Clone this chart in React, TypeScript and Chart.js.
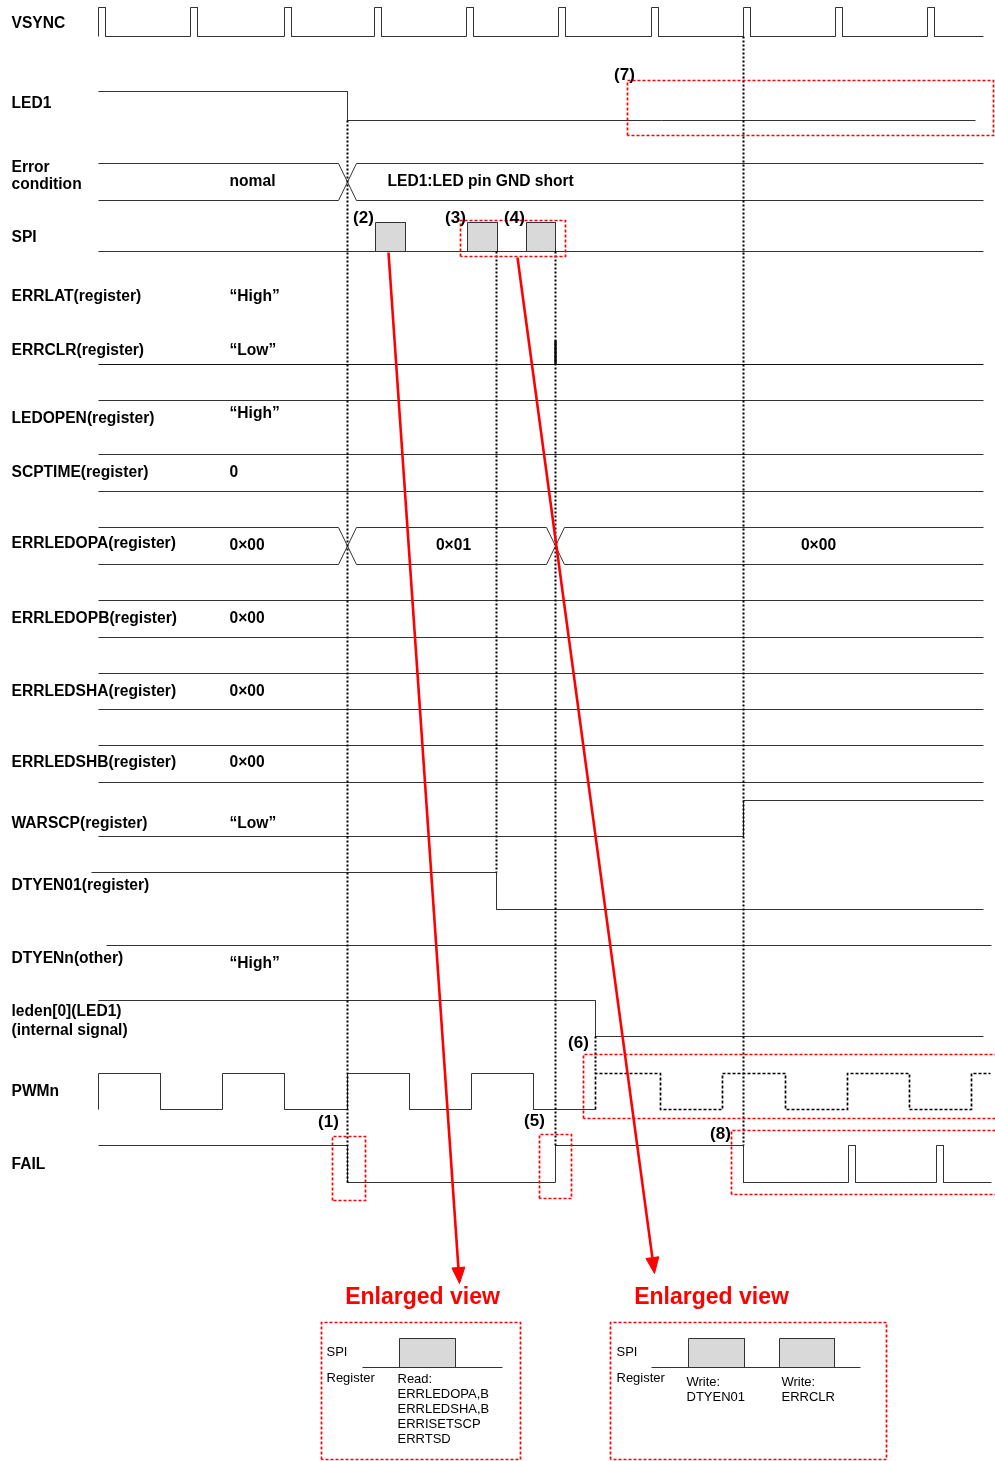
import React, { useEffect, useRef } from "react";
import { Chart, registerables } from "chart.js";

Chart.register(...registerables);

// ---------------- data (timing, in diagram time units) ----------------
const timeStart = 98;
const timeEnd = 983;

const vsyncEdges = [98, 105, 190, 197, 284, 291, 374, 381, 466, 473, 558, 565, 651, 658, 743, 750, 835, 842, 927, 934];
const led1Edges = [347];
const errorCondCross = [347];
const errorCondValues = ["nomal", "LED1:LED pin GND short"];
const spiWindows = [[375, 405], [467, 497], [526, 555]];
const errclrEdges = [555, 555];
const errledopaCross = [347, 555];
const errledopaValues = ["0×00", "0×01", "0×00"];
const warscpEdges = [743];
const dtyen01Edges = [496];
const ledenEdges = [595];
const pwmEdges = [98, 160, 222, 284, 347, 409, 471, 533];
const pwmMaskedEdges = [595, 660, 722, 785, 847, 909, 971];
const failEdges = [347, 555, 743, 848, 855, 936, 943];
const markerTimes = [347, 496, 555, 743, 595];

const zoomSpiA = [[399, 455]];
const zoomSpiB = [[688, 744], [779, 834]];
const zoomReadRegs = ["Read:", "ERRLEDOPA,B", "ERRLEDSHA,B", "ERRISETSCP", "ERRTSD"];
const zoomWriteA = ["Write:", "DTYEN01"];
const zoomWriteB = ["Write:", "ERRCLR"];

const leftLabels = [
  "VSYNC", "LED1", "Error", "condition", "SPI", "ERRLAT(register)", "ERRCLR(register)",
  "LEDOPEN(register)", "SCPTIME(register)", "ERRLEDOPA(register)", "ERRLEDOPB(register)",
  "ERRLEDSHA(register)", "ERRLEDSHB(register)", "WARSCP(register)", "DTYEN01(register)",
  "DTYENn(other)", "leden[0](LED1)", "(internal signal)", "PWMn", "FAIL",
];
const staticValues = ["“High”", "“Low”", "“High”", "0", "0×00", "0×00", "0×00", "0×00", "“Low”", "“High”"];
const stepLabels = ["(1)", "(2)", "(3)", "(4)", "(5)", "(6)", "(7)", "(8)"];

// ---------------- layout (pixel rows / positions) ----------------
const leftLabelY = [23, 103, 167, 184, 237, 296, 350, 418, 472, 543, 618, 691, 762, 823, 885, 958, 1011, 1030, 1091, 1164];
const staticValueY = [296, 350, 413, 472, 545, 618, 691, 762, 823, 963];
const stepLabelPos = [[328, 1122], [363, 218], [455, 218], [514, 218], [534, 1121], [578, 1043], [624, 75], [720, 1134]];

const FONT = "'Liberation Sans', Arial, sans-serif";
const LINE = "#333";
const RED = "#ff0000";

type P = { x: number; y: number };

function step(x0: number, x1: number, high0: boolean, edges: number[], yHi: number, yLo: number): P[] {
  let h = high0;
  const pts: P[] = [{ x: x0, y: h ? yHi : yLo }];
  for (const e of edges) {
    pts.push({ x: e, y: h ? yHi : yLo });
    h = !h;
    pts.push({ x: e, y: h ? yHi : yLo });
  }
  pts.push({ x: x1, y: h ? yHi : yLo });
  return pts;
}

function bus(x0: number, x1: number, crosses: number[], yTop: number, yBot: number, hw: number): P[][] {
  const mk = (startTop: boolean) => {
    let top = startTop;
    const pts: P[] = [{ x: x0, y: top ? yTop : yBot }];
    for (const c of crosses) {
      pts.push({ x: c - hw, y: top ? yTop : yBot });
      top = !top;
      pts.push({ x: c + hw, y: top ? yTop : yBot });
    }
    pts.push({ x: x1, y: top ? yTop : yBot });
    return pts;
  };
  return [mk(true), mk(false)];
}

function rect(x1: number, x2: number, y1: number, y2: number): P[] {
  return [
    { x: x1, y: y2 }, { x: x1, y: y1 }, { x: x2, y: y1 }, { x: x2, y: y2 }, { x: x1, y: y2 },
  ];
}

function ds(points: P[], color: string, width: number, dash: number[] = [], order = 2, fillColor?: string) {
  return {
    data: points,
    showLine: true,
    borderColor: color,
    borderWidth: width,
    borderDash: dash,
    pointRadius: 0,
    pointHoverRadius: 0,
    tension: 0,
    fill: fillColor ? "shape" : false,
    backgroundColor: fillColor || "transparent",
    order,
  };
}

function arrow(sx: number, sy: number, tx: number, ty: number) {
  const dx = tx - sx, dy = ty - sy;
  const len = Math.hypot(dx, dy);
  const ux = dx / len, uy = dy / len;
  const hl = 16, hw = 6.5;
  const bx = tx - ux * hl, by = ty - uy * hl;
  const line = [{ x: sx, y: sy }, { x: bx, y: by }];
  const head = [
    { x: tx, y: ty },
    { x: bx - uy * hw, y: by + ux * hw },
    { x: bx + uy * hw, y: by - ux * hw },
    { x: tx, y: ty },
  ];
  return [ds(line, RED, 2.6, [], 0), ds(head, RED, 1, [], 0, RED)];
}

function buildDatasets() {
  const out: any[] = [];
  // VSYNC
  out.push(ds(step(timeStart, timeEnd, false, vsyncEdges, 7, 36), LINE, 1));
  // LED1
  out.push(ds(step(timeStart, 975, true, led1Edges, 91, 120), LINE, 1));
  // Error condition bus
  for (const p of bus(timeStart, timeEnd, errorCondCross, 163, 200, 9)) out.push(ds(p, LINE, 1));
  // SPI
  for (const w of spiWindows) out.push(ds(rect(w[0], w[1], 222, 251), LINE, 1, [], 3, "#d9d9d9"));
  out.push(ds([{ x: timeStart, y: 251 }, { x: timeEnd, y: 251 }], LINE, 1));
  // ERRCLR
  out.push(ds(step(timeStart, timeEnd, false, errclrEdges, 340, 364), "#111", 1));
  out.push(ds([{ x: errclrEdges[0], y: 340 }, { x: errclrEdges[1], y: 364 }], "#000", 2.4));
  // LEDOPEN
  out.push(ds([{ x: timeStart, y: 400 }, { x: timeEnd, y: 400 }], LINE, 1));
  // SCPTIME bus
  for (const p of bus(timeStart, timeEnd, [], 454, 491, 9)) out.push(ds(p, LINE, 1));
  // ERRLEDOPA bus
  for (const p of bus(timeStart, timeEnd, errledopaCross, 527, 564, 9)) out.push(ds(p, LINE, 1));
  // ERRLEDOPB, ERRLEDSHA, ERRLEDSHB
  for (const [t, b] of [[600, 637], [673, 709], [745, 782]]) {
    for (const p of bus(timeStart, timeEnd, [], t, b, 9)) out.push(ds(p, LINE, 1));
  }
  // WARSCP
  out.push(ds(step(timeStart, timeEnd, false, warscpEdges, 800, 836), LINE, 1));
  // DTYEN01
  out.push(ds(step(91, timeEnd, true, dtyen01Edges, 872, 909), LINE, 1));
  // DTYENn
  out.push(ds([{ x: 106, y: 945 }, { x: 991, y: 945 }], LINE, 1));
  // leden
  out.push(ds(step(timeStart, timeEnd, true, ledenEdges, 1000, 1036), LINE, 1));
  // PWMn
  out.push(ds(step(timeStart, 595, false, pwmEdges, 1073, 1109), LINE, 1));
  out.push(ds(step(595, 990, false, pwmMaskedEdges, 1073, 1109), "#000", 1.7, [3, 2]));
  // FAIL
  out.push(ds(step(timeStart, 991, true, failEdges, 1145, 1182), LINE, 1));

  // guide lines (dotted)
  const guideSpans = [[120, 1182], [251, 872], [251, 1145], [36, 1145], [1036, 1073]];
  markerTimes.forEach((t, i) => {
    out.push(ds([{ x: t, y: guideSpans[i][0] }, { x: t, y: guideSpans[i][1] }], "#000", 2, [2, 2], 1));
  });

  // red dashed highlight boxes
  const boxes = [
    [627, 993, 80, 135],
    [460, 565, 220, 256],
    [583, 1000, 1054, 1118],
    [731, 1000, 1130, 1194],
    [332, 365, 1136, 1200],
    [539, 571, 1134, 1198],
    [321, 520, 1322, 1459],
    [610, 886, 1322, 1459],
  ];
  for (const b of boxes) out.push(ds(rect(b[0], b[1], b[2], b[3]), RED, 1.7, [3, 2], 0));

  // enlarged views
  out.push(ds([{ x: 362, y: 1367 }, { x: 502, y: 1367 }], LINE, 1));
  for (const w of zoomSpiA) out.push(ds(rect(w[0], w[1], 1338, 1367), LINE, 1, [], 3, "#d9d9d9"));
  out.push(ds([{ x: 651, y: 1367 }, { x: 860, y: 1367 }], LINE, 1));
  for (const w of zoomSpiB) out.push(ds(rect(w[0], w[1], 1338, 1367), LINE, 1, [], 3, "#d9d9d9"));

  // arrows
  out.push(...arrow(388, 252, 459, 1283));
  out.push(...arrow(517, 257, 654, 1273));
  return out;
}

type T = { text: string; x: number; y: number; font: string; color?: string; align?: CanvasTextAlign };

function buildTexts(): T[] {
  const bold15 = `bold 15.6px ${FONT}`;
  const t: T[] = [];
  leftLabels.forEach((s, i) => t.push({ text: s, x: 11, y: leftLabelY[i], font: bold15 }));
  staticValues.forEach((s, i) => t.push({ text: s, x: 229, y: staticValueY[i], font: bold15 }));
  t.push({ text: errorCondValues[0], x: 252, y: 181, font: bold15, align: "center" });
  t.push({ text: errorCondValues[1], x: 387, y: 181, font: bold15 });
  t.push({ text: errledopaValues[1], x: 453, y: 545, font: bold15, align: "center" });
  t.push({ text: errledopaValues[2], x: 818, y: 545, font: bold15, align: "center" });
  stepLabels.forEach((s, i) =>
    t.push({ text: s, x: stepLabelPos[i][0], y: stepLabelPos[i][1], font: `bold 17px ${FONT}`, align: "center" })
  );
  t.push({ text: "Enlarged view", x: 422, y: 1297, font: `bold 23px ${FONT}`, color: RED, align: "center" });
  t.push({ text: "Enlarged view", x: 711, y: 1297, font: `bold 23px ${FONT}`, color: RED, align: "center" });
  const r13 = `13px ${FONT}`;
  t.push({ text: "SPI", x: 326, y: 1352, font: r13 });
  t.push({ text: "Register", x: 326, y: 1378, font: r13 });
  const readY = [1379, 1394, 1409, 1424, 1439];
  zoomReadRegs.forEach((s, i) => t.push({ text: s, x: 397, y: readY[i], font: r13 }));
  t.push({ text: "SPI", x: 616, y: 1352, font: r13 });
  t.push({ text: "Register", x: 616, y: 1378, font: r13 });
  zoomWriteA.forEach((s, i) => t.push({ text: s, x: 686, y: 1382 + i * 15, font: r13 }));
  zoomWriteB.forEach((s, i) => t.push({ text: s, x: 781, y: 1382 + i * 15, font: r13 }));
  return t;
}

export default function App() {
  const ref = useRef<HTMLCanvasElement | null>(null);
  useEffect(() => {
    if (!ref.current) return;
    const texts = buildTexts();
    const textPlugin = {
      id: "timingTexts",
      afterDatasetsDraw(chart: any) {
        const { ctx } = chart;
        const xs = chart.scales.x, ys = chart.scales.y;
        ctx.save();
        for (const t of texts) {
          ctx.font = t.font;
          ctx.fillStyle = t.color || "#000";
          ctx.textAlign = t.align || "left";
          ctx.textBaseline = "middle";
          ctx.fillText(t.text, xs.getPixelForValue(t.x), ys.getPixelForValue(t.y));
        }
        ctx.restore();
      },
    };
    const chart = new Chart(ref.current, {
      type: "scatter",
      data: { datasets: buildDatasets() },
      options: {
        animation: false,
        responsive: false,
        events: [],
        layout: { padding: 0 },
        plugins: { legend: { display: false }, tooltip: { enabled: false } },
        scales: {
          x: { type: "linear", min: -0.5, max: 994.5, display: false },
          y: { type: "linear", min: -0.5, max: 1460.5, reverse: true, display: false },
        },
      },
      plugins: [textPlugin],
    } as any);
    return () => chart.destroy();
  }, []);
  return (
    <div style={{ position: "absolute", left: 0, top: 0, width: 995, height: 1461, background: "#fff" }}>
      <canvas ref={ref} width={995} height={1461} style={{ display: "block" }} />
    </div>
  );
}
